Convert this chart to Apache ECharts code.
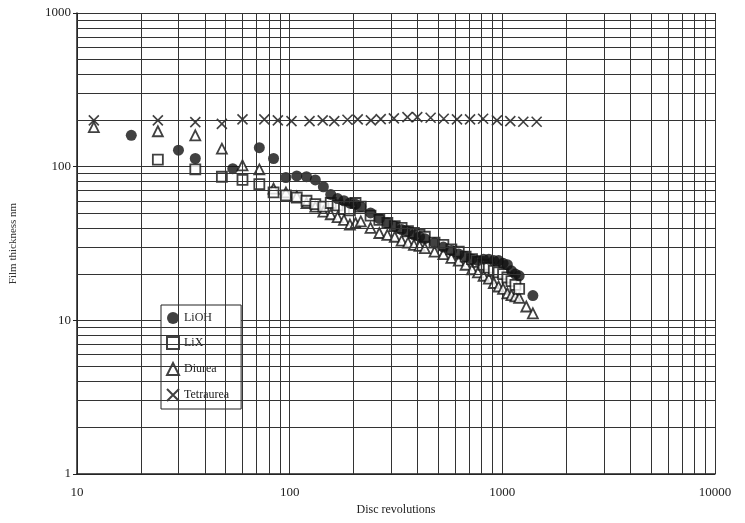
<!DOCTYPE html>
<html>
<head>
<meta charset="utf-8">
<script src="https://cdn.jsdelivr.net/npm/echarts@6/dist/echarts.min.js"></script>
<style>html,body{margin:0;padding:0;background:#fff}#c{width:745px;height:523px}</style>
</head>
<body>
<div id="c"></div>
<script>
const xTicks = [10, 100, 1000, 10000];
const yTicks = [1, 10, 100, 1000];
const xMinor = [20,30,40,50,60,70,80,90,200,300,400,500,600,700,800,900,2000,3000,4000,5000,6000,7000,8000,9000];
const yMinor = [2,3,4,5,6,7,8,9,20,30,40,50,60,70,80,90,200,300,400,500,600,700,800,900];

const liohX = [18, 30, 36, 54, 72, 84, 96, 108, 120, 132, 144, 156, 168, 180, 192, 204, 216, 240, 264, 288, 312, 336, 360, 384, 408, 432, 480, 528, 576, 624, 672, 720, 768, 816, 864, 912, 960, 1008, 1056, 1104, 1152, 1200, 1392];
const liohY = [160, 128, 113, 97, 133, 113, 85, 87, 86, 82, 74, 66, 62, 60, 58, 57, 55, 50, 46, 43, 41, 39, 38, 36, 35, 34, 32, 30, 28.5, 27, 26, 25, 24.5, 25, 25, 24.5, 24.5, 23.5, 23, 21, 20, 19.5, 14.5];

const lixX = [24, 36, 48, 60, 72, 84, 96, 108, 120, 132, 144, 156, 168, 180, 192, 204, 216, 240, 264, 288, 312, 336, 360, 384, 408, 432, 480, 528, 576, 624, 672, 720, 768, 816, 864, 912, 960, 1008, 1056, 1104, 1152, 1200];
const lixY = [111, 96, 86, 82, 77, 68, 65, 63, 60, 57, 55, 58, 56, 53, 52, 58, 55, 48, 45, 43, 41, 40, 38, 37, 36, 35, 32, 31, 29, 28, 26, 25, 24, 23, 22, 21, 20.5, 20, 19, 18, 17, 16];

const diureaX = [12, 24, 36, 48, 60, 72, 84, 96, 108, 120, 132, 144, 156, 168, 180, 192, 204, 216, 240, 264, 288, 312, 336, 360, 384, 408, 432, 480, 528, 576, 624, 672, 720, 768, 816, 864, 912, 960, 1008, 1056, 1104, 1152, 1200, 1296, 1392];
const diureaY = [181, 170, 160, 131, 102, 96, 72, 68, 64, 58, 55, 51, 49, 47, 45, 42, 43, 44, 40, 37, 36, 35, 33, 32, 31, 30.5, 29.5, 28, 27, 25.5, 24.5, 23, 21.5, 20.5, 19.5, 18.7, 17.5, 16.6, 16, 15, 14.6, 14.3, 14, 12.3, 11.1];

const tetraX = [12, 24, 36, 48, 60, 76, 88, 102, 124, 143, 162, 187, 209, 241, 268, 309, 358, 398, 460, 530, 612, 705, 812, 943, 1090, 1255, 1450];
const tetraY = [200, 200, 195, 190, 203, 203, 200, 198, 198, 200, 198, 202, 203, 200, 204, 206, 210, 210, 208, 205, 203, 203, 205, 200, 198, 196, 196];

const FONT = '"Liberation Serif", "DejaVu Serif", serif';
const pairs = (xs, ys) => xs.map((x, i) => [x, ys[i]]);
const crossPath = 'path://M0,0L10,10M10,0L0,10';
const plain = v => String(Math.round(v));

const chart = echarts.init(document.getElementById('c'), null, {renderer: 'canvas'});
const lineCol = '#333';
chart.setOption({
  backgroundColor: '#fff',
  animation: false,
  textStyle: {fontFamily: FONT, color: '#222'},
  grid: {left: 74, right: 30, top: 13, bottom: 49},
  legend: {
    orient: 'vertical', left: 161, top: 305,
    backgroundColor: '#fff', borderColor: '#222', borderWidth: 1,
    padding: [7, 12, 7, 5], itemGap: 12, itemWidth: 12, itemHeight: 12,
    textStyle: {fontFamily: FONT, fontSize: 12, color: '#222'},
    data: ['LiOH', 'LiX', 'Diurea', 'Tetraurea']
  },
  xAxis: {
    type: 'log', logBase: 10, min: 10, max: 10000,
    name: 'Disc revolutions', nameLocation: 'middle', nameGap: 30,
    nameTextStyle: {fontFamily: FONT, fontSize: 12, color: '#222'},
    axisLine: {lineStyle: {color: '#222', width: 1.5}},
    axisTick: {show: false},
    axisLabel: {fontFamily: FONT, fontSize: 13, color: '#222', margin: 12, formatter: plain},
    splitLine: {show: true, lineStyle: {color: lineCol, width: 1}}
  },
  yAxis: {
    type: 'log', logBase: 10, min: 1, max: 1000,
    name: 'Film thickness nm', nameLocation: 'middle', nameGap: 58,
    nameTextStyle: {fontFamily: FONT, fontSize: 11, color: '#333'},
    axisLine: {show: true, lineStyle: {color: '#222', width: 1.5}},
    axisTick: {show: true, length: 4, inside: false, lineStyle: {color: '#222'}},
    axisLabel: {fontFamily: FONT, fontSize: 13, color: '#222', margin: 6, formatter: plain},
    splitLine: {show: true, lineStyle: {color: lineCol, width: 1}}
  },
  series: [
    {
      name: 'grid', type: 'line', data: [], silent: true,
      markLine: {
        silent: true, symbol: 'none', animation: false,
        label: {show: false},
        lineStyle: {color: lineCol, width: 1, type: 'solid'},
        data: xMinor.map(v => ({xAxis: v})).concat(yMinor.map(v => ({yAxis: v})))
      }
    },
    {
      name: 'Tetraurea', type: 'scatter', symbol: crossPath, symbolSize: 10,
      itemStyle: {color: 'rgba(0,0,0,0)', borderColor: '#111', borderWidth: 1.6},
      data: pairs(tetraX, tetraY)
    },
    {
      name: 'Diurea', type: 'scatter', symbol: 'triangle', symbolSize: 10,
      itemStyle: {color: '#fff', borderColor: '#111', borderWidth: 1.8},
      data: pairs(diureaX, diureaY)
    },
    {
      name: 'LiX', type: 'scatter', symbol: 'rect', symbolSize: 10,
      itemStyle: {color: '#fff', borderColor: '#111', borderWidth: 1.8},
      data: pairs(lixX, lixY)
    },
    {
      name: 'LiOH', type: 'scatter', symbol: 'circle', symbolSize: 11,
      itemStyle: {color: '#111', borderColor: '#111', borderWidth: 0},
      data: pairs(liohX, liohY)
    }
  ]
});
</script>
</body>
</html>
